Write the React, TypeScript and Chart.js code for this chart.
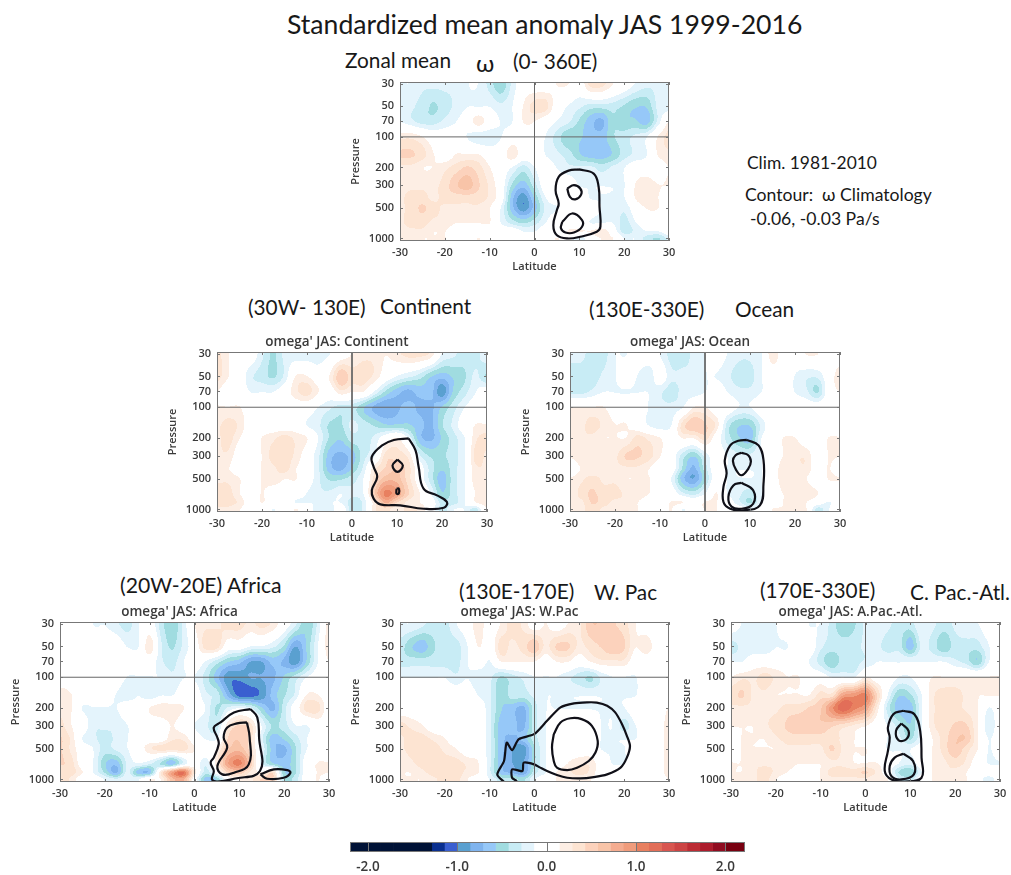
import React, { useEffect, useRef } from "react";
import { Chart, registerables } from "chart.js";

Chart.register(...registerables);

// ---------- axes ----------
const latitudes = [-30,-27.5,-25,-22.5,-20,-17.5,-15,-12.5,-10,-7.5,-5,-2.5,0,2.5,5,7.5,10,12.5,15,17.5,20,22.5,25,27.5,30];
const pressureLevels = [30,50,70,100,150,200,300,400,500,700,850,1000];
const pressureTicks = [30,50,70,100,200,300,500,1000];
const colorbarTicks = [-2,-1,0,1,2];

// The field tables hold anomalies in whole tenths, rounded toward zero; a non-zero entry is
// read back as the middle of its tenth.
const readValue = (n: number) => (n === 0 ? 0 : Math.sign(n) * (Math.abs(n) + 0.5) * 0.1);

// ---------- anomaly fields: one row per pressure level, one column per latitude ----------
const zonalField = [
  [-1,-1,-2,-2,-2, -2,-1,-1,-3,-5, -2,0,0,0,1, 1,0,3,3,1, 0,-1,-2,-2,-2],
  [-1,-2,-3,-4,-3, -2,-1,-1,-1,-2, -1,1,3,3,0, -1,-2,-3,-3,-3, -4,-5,-5,-2,-2],
  [-1,-2,-3,-3,-2, -1,0,2,0,-1, -1,1,1,0,-1, -2,-4,-6,-7,-4, -5,-5,-6,-2,1],
  [2,2,1,0,0, 0,-1,-2,-2,-1, 0,0,0,-1,-3, -5,-5,-6,-6,-4, -3,-2,-1,1,3],
  [4,4,3,1,0, 1,1,1,0,0, 2,0,0,-1,-2, -3,-5,-6,-6,-5, -3,-2,-1,1,2],
  [2,2,1,1,2, 3,4,3,1,0, -1,-3,-1,0,-1, -2,-2,-2,-3,-2, -1,0,0,0,1],
  [2,2,2,2,3, 5,6,4,2,0, -4,-6,-3,0,0, 0,-1,-1,-1,-1, -1,1,2,1,1],
  [2,3,3,2,3, 3,3,3,2,0, -6,-9,-5,-1,0, 0,0,-1,-1,-1, -1,1,2,1,0],
  [2,3,4,3,2, 2,2,2,1,-1, -6,-9,-6,-2,-1, 0,0,0,-1,-1, -2,0,1,1,0],
  [2,3,3,2,2, 1,1,1,1,-1, -3,-4,-3,-1,0, 0,0,-1,-1,-1, -3,-1,0,0,0],
  [2,2,2,1,1, 0,0,0,0,0, 0,-1,-1,0,0, 1,1,1,2,0, -3,-2,-1,-1,0],
  [2,2,1,1,1, 0,0,1,0,0, 0,0,0,0,1, 0,-2,0,1,1, -1,-1,-3,-4,-2],
];
const continentField = [
  [3,1,0,0,-2, -4,-2,-2,-2,-2, -1,0,1,2,2, 1,2,3,3,2, -1,-2,-3,-3,-1],
  [3,1,0,-2,-3, -4,-2,1,1,0, 1,5,3,3,2, 0,-1,-2,-3,-5, -6,-5,-4,-2,-4],
  [1,0,0,-1,-1, -1,0,2,3,1, 0,2,1,1,-1, -4,-6,-7,-6,-6, -9,-5,-3,-1,0],
  [1,1,1,0,0, 0,0,0,0,-1, -2,-3,-3,-5,-7, -8,-7,-6,-7,-7, -5,-3,-1,0,0],
  [2,3,2,0,0, 0,0,0,-1,-2, -4,-4,-2,-3,-4, -5,-5,-5,-6,-7, -4,-2,0,1,1],
  [2,3,1,0,1, 2,3,2,1,-1, -4,-5,-3,-3,-2, 0,1,-1,-6,-7, -5,-3,-1,2,3],
  [2,2,0,0,1, 3,3,2,0,-2, -6,-7,-6,-3,-1, 3,3,2,-2,-4, -4,-3,-1,3,2],
  [1,1,0,0,1, 2,3,1,0,-2, -6,-7,-5,-2,2, 4,5,3,0,-3, -5,-3,-1,2,2],
  [2,2,1,0,1, 2,1,1,0,-2, -4,-4,-3,-1,3, 6,6,3,0,-3, -6,-3,-1,2,2],
  [3,3,1,0,1, 0,0,0,-1,-2, -2,-1,-2,-1,5, 10,8,4,1,-1, -5,-3,-1,1,2],
  [3,3,2,0,1, 0,0,-1,-1,-1, -1,-1,-3,-2,2, 7,4,2,1,0, -3,-3,-1,1,2],
  [2,2,1,0,0, -1,0,1,0,-2, -2,0,-3,-2,2, 3,1,3,2,0, -3,-1,-1,-3,1],
];
const oceanField = [
  [-2,-2,-3,-3,-1, -1,0,0,-1,-3, -3,-2,-1,0,-1, -2,-2,-1,2,0, 0,1,1,0,0],
  [-3,-3,-3,-2,-1, 0,-1,-2,0,-2, -2,-2,-1,-1,-2, -3,-3,-1,0,0, -1,-2,-2,0,2],
  [-3,-3,-2,-1,-1, -1,-1,-1,-2,-3, -2,-2,-1,0,-1, -2,-2,-1,0,0, -1,-2,-4,0,1],
  [1,1,1,1,0, 0,0,-1,-2,-2, -1,1,1,0,0, -1,-1,0,0,0, 0,0,0,0,0],
  [2,2,3,2,1, 1,0,-1,-2,-1, 3,5,4,2,-3, -5,-5,-2,0,0, 0,0,0,0,0],
  [1,2,2,1,1, 1,3,2,1,0, 1,1,3,0,-3, -5,-6,-1,0,1, 1,0,0,1,1],
  [1,2,2,2,2, 4,4,3,1,0, -3,-5,-2,0,-1, -2,-2,-1,0,1, 2,2,0,1,1],
  [0,1,1,2,2, 2,2,1,0,0, -4,-7,-3,0,-1, -1,-1,-1,0,2, 2,2,0,1,0],
  [1,2,3,2,2, 1,1,1,0,-1, -6,-8,-4,0,-1, -1,-1,-1,0,2, 2,1,0,1,1],
  [1,3,4,3,3, 2,2,1,0,0, -2,-3,-1,1,-1, -2,-3,-1,0,1, 1,2,1,0,0],
  [2,2,4,3,2, 2,1,0,0,1, 1,0,1,1,0, -2,-4,-1,0,1, 2,1,0,-1,0],
  [2,2,3,2,2, 1,1,0,0,1, -1,0,1,1,0, 0,-1,0,1,1, 1,1,-3,-1,0],
];
const africaField = [
  [0,0,0,-1,-1, -2,-3,-1,0,-3, -5,-2,1,2,2, 3,3,2,3,2, 0,-2,-5,-2,2],
  [0,0,0,0,0, 0,-1,-1,2,-2, -4,-2,0,3,3, 0,0,-1,-1,-2, -4,-8,-5,-1,2],
  [0,0,0,0,0, 0,0,0,0,-2, -3,-1,0,-1,-3, -5,-6,-8,-8,-6, -7,-9,-5,-1,1],
  [0,0,0,0,0, 0,-1,-1,-1,-1, -2,-1,-1,-3,-6, -9,-9,-8,-8,-7, -5,-3,-1,0,0],
  [2,1,0,0,0, -1,-2,-1,-2,-1, -1,0,0,-2,-3, -7,-10,-10,-9,-6, -4,-2,1,1,0],
  [2,1,-1,-1,-1, -1,0,0,1,2, 2,1,0,-1,-4, -2,-1,-2,-5,-7, -3,0,3,3,0],
  [3,1,0,-2,-2, -2,-1,0,0,0, 1,0,-1,-2,-3, 2,4,3,-1,-4, -3,-1,-1,0,0],
  [4,2,-1,-2,-3, -2,-1,0,0,0, 2,2,0,-1,-1, 4,5,3,-2,-6, -5,-3,-1,0,0],
  [4,2,0,-1,-3, -2,-1,0,2,3, 3,3,1,0,1, 5,6,3,-1,-6, -7,-4,-1,0,0],
  [4,3,0,-1,-5, -6,-2,-1,-2,-4, -6,-2,0,-2,2, 8,10,5,-2,-5, -6,-4,0,1,1],
  [3,3,1,-1,-4, -7,-2,-6,-6,2, 8,11,2,-3,0, 4,5,2,1,3, -5,-4,0,1,1],
  [3,2,0,0,-1, -2,-1,-1,1,1, 6,7,0,-6,-5, 0,1,2,4,4, -4,-3,0,1,0],
];
const westPacificField = [
  [-1,-1,-2,-3,-3, -1,0,2,0,1, 3,2,0,1,0, 1,2,5,5,4, 3,1,0,0,0],
  [-3,-5,-6,-4,-3, -3,-1,1,0,3, 2,3,5,2,4, 4,2,3,4,5, 4,1,2,0,0],
  [-3,-3,-3,-3,-3, -3,-1,0,-1,1, 1,1,1,0,1, 1,0,1,2,2, 2,0,0,0,0],
  [-1,-1,-1,-1,-1, -2,-1,-2,-2,-4, -3,-2,-1,-1,-1, -2,-3,-4,-2,-1, -1,-1,0,0,0],
  [0,0,0,0,0, 0,0,-1,-2,-5, -3,-3,-2,-1,-1, -1,-1,-1,-1,-1, -1,-1,0,0,0],
  [0,0,0,0,0, 0,0,0,-2,-5, -6,-7,-3,-1,-1, -1,-1,-1,-1,-1, -1,0,0,0,1],
  [3,2,1,0,0, 0,0,0,-2,-6, -6,-7,-3,-1,0, 0,0,0,-1,-1, -3,-1,0,0,2],
  [2,3,3,2,1, 0,0,0,-2,-6, -7,-6,-3,-1,0, 0,0,0,-1,-1, -1,-1,0,0,2],
  [2,3,3,3,2, 1,0,0,-2,-6, -8,-9,-4,-1,0, 0,0,0,-1,-1, -1,0,0,0,2],
  [1,2,3,3,3, 3,2,1,-2,-6, -8,-8,-4,-1,0, 1,2,2,0,-1, -1,0,0,0,2],
  [1,1,2,3,3, 3,2,1,-2,-6, -7,-8,-3,-1,1, 2,3,2,0,0, 0,0,0,0,2],
  [1,1,1,2,3, 3,1,0,-1,-3, -3,-4,-1,0,1, 1,1,1,0,0, 0,0,0,0,1],
];
const pacificAtlanticField = [
  [0,-1,-1,-2,-1, 0,0,-1,-1,-3, -5,-4,-2,-1,-2, -3,-3,-1,-2,-3, -2,-1,-1,0,0],
  [-3,-2,-2,-2,-1, -1,0,0,-2,-3, -3,-3,-2,-2,-3, -3,-6,-2,-3,-5, -3,-3,-3,-1,0],
  [-1,-1,0,0,0, 0,0,-1,-3,-5, -3,-3,-2,-1,-1, -1,-1,-1,-1,-1, -2,-3,-5,-1,0],
  [1,2,2,3,2, 1,1,0,0,-1, -1,-1,1,0,0, -1,-1,0,1,1, 1,1,1,1,1],
  [3,4,2,2,1, 1,1,1,3,3, 8,9,10,4,-1, -5,-4,-1,2,3, 3,2,1,1,1],
  [2,2,2,2,2, 3,3,4,5,9, 12,10,8,2,-3, -6,-6,-1,2,3, 3,2,1,-1,0],
  [1,1,1,2,3, 4,5,5,5,4, 3,2,1,0,-1, -3,-5,-1,2,3, 4,4,1,-2,0],
  [0,1,1,1,2, 3,3,3,3,3, 2,1,0,0,-1, -2,-4,-1,1,3, 5,5,1,-1,0],
  [0,1,1,1,1, 2,2,2,2,4, 2,1,1,0,-1, -1,-1,0,1,3, 5,3,1,-1,0],
  [1,1,2,2,2, 2,1,1,1,2, 2,1,1,1,0, -1,-2,0,1,2, 3,2,0,-1,-1],
  [1,1,2,3,2, 1,0,0,1,3, 3,3,4,2,0, -4,-5,-1,1,2, 2,1,0,0,0],
  [1,2,2,3,1, 0,0,0,1,2, 2,2,2,1,1, -2,-3,0,1,1, 2,1,0,-2,0],
];

// ---------- climatology contours as [latitude, pressure] ----------
const zonalContours = [
  [[9.9,209],[13.2,230],[14.3,310],[14.5,488],[14.7,767],[13.9,860],[10.2,963],[7.3,1000],[5,930],[4.2,740],[5,526],[5.4,453],[4.7,335],[5.4,247],[7.6,215]],
  [[7.3,322],[8.8,299],[10.2,322],[10.4,370],[9.1,412],[7.9,389]],
  [[6.2,685],[8.4,568],[10.6,660],[10.6,767],[8.8,875],[6.9,875],[5.9,795]],
];
const continentContours = [
  [[12.6,202],[14.1,263],[14.8,383],[15.9,626],[18.9,729],[21.1,847],[20.4,963],[15.9,985],[10.7,912],[6.3,893],[4.8,785],[4.4,650],[5.6,480],[4.8,383],[4.4,305],[6.7,236],[9.3,209]],
  [[10.1,325],[11.3,372],[10.1,430],[9,372]],
  [[9.9,626],[10.4,626],[10.4,700],[9.9,700]],
];
const oceanContours = [
  [[9.3,209],[11.9,236],[13,330],[13,560],[12.2,912],[8.5,1020],[5.6,985],[4.1,847],[4.1,603],[4.8,445],[4.4,330],[5.6,236],[7.4,213]],
  [[8.1,279],[9.6,295],[10.2,340],[9.6,400],[8.1,463],[6.9,410],[6.2,335],[6.8,295]],
  [[8.1,548],[10.7,650],[10.7,880],[8.1,985],[5.9,940],[5.2,755],[6.3,582]],
];
const africaContours = [
  [[12.5,205],[14,247],[14.4,389],[14.6,828],[8.8,985],[5.1,1050],[3.9,1000],[4.3,828],[3.6,685],[4.3,612],[5.4,453],[5.1,389],[4.3,310],[5.8,277],[8.8,221]],
  [[11.7,277],[12.3,389],[12.1,712],[8.8,860],[6.2,893],[5.1,740],[7.3,488],[6.5,389],[7.3,310],[9.5,283]],
  [[14.7,893],[17.7,797],[20.7,810],[21.4,860],[19.9,963],[16.2,985]],
];
const westPacificContours = [
  [[-6.8,1060],[-8.3,893],[-6.8,660],[-6.2,436],[-5,518],[-3.5,404],[-0.1,361],[2.8,267],[5.8,197],[8.8,180],[11.7,176],[13.9,177],[16.2,190],[18,221],[19.5,287],[20.6,374],[21.3,470],[20.6,612],[19.2,767],[16.2,893],[13.2,950],[10.2,978],[7.3,963],[5,906],[2.8,828],[1.3,767],[-0.1,712],[-2.4,685],[-2.7,828],[-5,797],[-5,963],[-4,1038],[-4.6,1060]],
  [[4.3,361],[5.8,277],[8,252],[10.5,257],[12.8,299],[14.1,420],[13.6,546],[12.1,660],[9.5,767],[7.3,810],[5,767],[4.3,660],[3.9,488]],
];
const pacificAtlanticContours = [
  [[8.4,213],[10.9,230],[12.2,335],[12.5,612],[12.5,963],[8.8,1050],[5.8,1000],[4.3,828],[5,526],[5.4,389],[5,310],[6.2,230]],
  [[8,283],[9.6,335],[9.1,404],[7.4,414],[6.8,335]],
  [[8.4,560],[10.6,660],[10.8,893],[8,1000],[5.8,930],[5.4,740],[6.5,612]],
];

// ---------- colour steps (each step spans one seventh of a unit) ----------
const warmSteps = ["#ffffff","#fdeee4","#fde4d2","#fcd2bc","#f8c4a8","#f4ac90","#f09c7c","#e88060","#e26e58","#d85650","#cc4444","#bc2c34","#ac1c2c","#900c20","#780010","#780010"];
const coolSteps = ["#ffffff","#e4f4fc","#c8ecf5","#a0dce0","#96c8f8","#80b4ee","#5aa0d0","#3a5fd0","#0a2f8f","#001236","#001236","#001236","#001236","#001236","#001236","#001236"];

const stepIndex = (v: number) => Math.floor(v * 7);
const stepColour = (k: number) => (k >= 0 ? warmSteps[Math.min(k, 15)] : coolSteps[Math.min(-k - 1, 15)]);
const hexRgb = (h: string) => [parseInt(h.slice(1, 3), 16), parseInt(h.slice(3, 5), 16), parseInt(h.slice(5, 7), 16)];

const TICK_FONT = { family: "'Open Sans'", size: 11, weight: "600" as const };
const INK = "#3a3a3a";
const FRAME = "#777777";

const catmull = (a: number, b: number, c: number, d: number, t: number) =>
  0.5 * (2 * b + (c - a) * t + (2 * a - 5 * b + 4 * c - d) * t * t + (3 * b - a - 3 * c + d) * t * t * t);

// paints the field dataset through the chart's own scales
const fieldPlugin = {
  id: "anomalyField",
  beforeDatasetsDraw(chart: any) {
    const ds = chart.data.datasets.find((d: any) => d.isField);
    if (!ds) return;
    const { left, top, right, bottom } = chart.chartArea;
    const x0 = Math.round(left), y0 = Math.round(top);
    const w = Math.round(right) - x0, h = Math.round(bottom) - y0;
    const nLat = latitudes.length, nLev = pressureLevels.length;
    const cell = (r: number, c: number) =>
      ds.data[Math.max(0, Math.min(nLev - 1, r)) * nLat + Math.max(0, Math.min(nLat - 1, c))].v;
    const img = chart.ctx.createImageData(w, h);
    const logs = pressureLevels.map(Math.log);
    for (let py = 0; py < h; py++) {
      const p = Math.log(chart.scales.y.getValueForPixel(y0 + py + 0.5));
      let r = 0;
      while (r < nLev - 2 && p > logs[r + 1]) r++;
      const tr = Math.max(0, Math.min(1, (p - logs[r]) / (logs[r + 1] - logs[r])));
      for (let px = 0; px < w; px++) {
        const lat = chart.scales.x.getValueForPixel(x0 + px + 0.5);
        const fc = Math.max(0, Math.min(nLat - 1.0001, (lat + 30) / 2.5));
        const c = Math.floor(fc), tc = fc - c;
        const row = [-1, 0, 1, 2].map((dr) =>
          catmull(cell(r + dr, c - 1), cell(r + dr, c), cell(r + dr, c + 1), cell(r + dr, c + 2), tc)
        );
        const v = catmull(row[0], row[1], row[2], row[3], tr);
        const rgb = hexRgb(stepColour(stepIndex(v)));
        const i = (py * w + px) * 4;
        img.data[i] = rgb[0]; img.data[i + 1] = rgb[1]; img.data[i + 2] = rgb[2]; img.data[i + 3] = 255;
      }
    }
    chart.ctx.putImageData(img, x0, y0);
  },
};

// frame round the plot and the short ticks that point inward
const framePlugin = {
  id: "innerFrame",
  afterDraw(chart: any) {
    const { left, top, right, bottom } = chart.chartArea;
    const ctx = chart.ctx;
    ctx.save();
    ctx.strokeStyle = FRAME;
    ctx.lineWidth = 1;
    ctx.strokeRect(left + 0.5, top + 0.5, right - left - 1, bottom - top - 1);
    const len = chart.options.plugins.innerFrame?.tick ?? 3;
    ctx.beginPath();
    chart.scales.x.ticks.forEach((t: any) => {
      const x = Math.round(chart.scales.x.getPixelForValue(t.value)) + 0.5;
      ctx.moveTo(x, bottom); ctx.lineTo(x, bottom - len);
      ctx.moveTo(x, top); ctx.lineTo(x, top + len);
    });
    if (chart.scales.y.type === "logarithmic") {
      chart.scales.y.ticks.forEach((t: any) => {
        const y = Math.round(chart.scales.y.getPixelForValue(t.value)) + 0.5;
        ctx.moveTo(left, y); ctx.lineTo(left + len, y);
        ctx.moveTo(right, y); ctx.lineTo(right - len, y);
      });
    }
    ctx.stroke();
    ctx.restore();
  },
};

const GUTTER = { left: 55, right: 25, top: 18, bottom: 32 };
const P_TOP = 28.8, P_BOTTOM = 1060;

function HeatPanel({ field, contours, title, openFirst, left, top, width, height }: any) {
  const ref = useRef<HTMLCanvasElement>(null);
  useEffect(() => {
    const points: any[] = [];
    pressureLevels.forEach((p, r) =>
      latitudes.forEach((lat, c) => points.push({ x: lat, y: p, v: readValue(field[r][c]) }))
    );
    const contourSets = contours.map((loop: number[][], i: number) => {
      const isOpen = openFirst && i === 0;
      const pts = loop.map(([x, y]) => ({ x, y }));
      if (!isOpen) pts.push(pts[0]);
      return {
        label: `contour ${i + 1}`, data: pts, showLine: true, borderColor: "#101018", borderWidth: 2.2,
        pointRadius: 0, tension: isOpen ? 0.25 : 0.42, fill: false,
      };
    });
    const chart = new Chart(ref.current!, {
      type: "scatter",
      data: {
        datasets: [
          { label: "anomaly", isField: true, data: points, pointRadius: 0, showLine: false } as any,
          { label: "equator", data: [{ x: 0, y: P_TOP }, { x: 0, y: P_BOTTOM }], showLine: true, borderColor: "#666666", borderWidth: 1, pointRadius: 0 },
          { label: "100 hPa", data: [{ x: -30, y: 100 }, { x: 30, y: 100 }], showLine: true, borderColor: "#666666", borderWidth: 1, pointRadius: 0 },
          ...contourSets,
        ],
      },
      options: {
        animation: false,
        responsive: false,
        events: [],
        layout: { autoPadding: false, padding: { left: 0, right: 0, bottom: 0, top: title ? 0 : GUTTER.top } },
        plugins: {
          legend: { display: false },
          tooltip: { enabled: false },
          title: title
            ? { display: true, text: title, color: INK, font: { family: "'Open Sans'", size: 13.5, weight: "600" }, padding: { top: 0, bottom: 1.8 } }
            : { display: false },
        },
        scales: {
          x: {
            type: "linear", min: -30, max: 30,
            grid: { display: false, drawTicks: false },
            border: { display: false },
            ticks: { stepSize: 10, color: INK, font: TICK_FONT, padding: 5, maxRotation: 0, callback: (v: any) => String(v) },
            title: { display: true, text: "Latitude", color: INK, font: TICK_FONT, padding: 0 },
            afterFit: (s: any) => { s.height = GUTTER.bottom; },
          },
          y: {
            type: "logarithmic", reverse: true, min: P_TOP, max: P_BOTTOM,
            grid: { display: false, drawTicks: false },
            border: { display: false },
            afterBuildTicks: (s: any) => { s.ticks = pressureTicks.map((value) => ({ value })); },
            ticks: { color: INK, font: TICK_FONT, padding: 6, autoSkip: false, callback: (v: any) => String(v) },
            title: { display: true, text: "Pressure", color: INK, font: TICK_FONT, padding: { top: 4, bottom: 0 } },
            afterFit: (s: any) => { s.width = GUTTER.left; },
          },
          rightGutter: {
            type: "linear", position: "right", display: true,
            grid: { display: false, drawTicks: false },
            border: { display: false },
            ticks: { display: false },
            afterFit: (s: any) => { s.width = GUTTER.right; },
          },
        },
      } as any,
      plugins: [fieldPlugin, framePlugin],
    });
    return () => chart.destroy();
  }, []);
  return (
    <canvas
      ref={ref}
      width={width + GUTTER.left + GUTTER.right}
      height={height + GUTTER.top + GUTTER.bottom}
      style={{
        position: "absolute", left: left - GUTTER.left, top: top - GUTTER.top,
        width: width + GUTTER.left + GUTTER.right, height: height + GUTTER.top + GUTTER.bottom,
      }}
    />
  );
}

function Colorbar() {
  const ref = useRef<HTMLCanvasElement>(null);
  useEffect(() => {
    const steps: number[] = [];
    for (let k = -16; k <= 15; k++) steps.push(k);
    const chart = new Chart(ref.current!, {
      type: "bar",
      data: {
        labels: ["anomaly"],
        datasets: steps.map((k) => ({
          label: String(k),
          data: [[k / 7, (k + 1) / 7]],
          backgroundColor: stepColour(k),
          borderWidth: 0,
          barPercentage: 1,
          categoryPercentage: 1,
          grouped: false,
        })) as any,
      },
      options: {
        animation: false, responsive: false, indexAxis: "y", events: [],
        layout: { autoPadding: false, padding: { left: 20, right: 20, top: 0, bottom: 0 } },
        plugins: { legend: { display: false }, tooltip: { enabled: false }, innerFrame: { tick: 10 } },
        scales: {
          x: {
            type: "linear", min: -2.2, max: 2.22,
            grid: { display: false, drawTicks: false }, border: { display: false },
            afterBuildTicks: (s: any) => { s.ticks = colorbarTicks.map((value) => ({ value })); },
            ticks: { color: INK, font: { family: "'Open Sans'", size: 13.5, weight: "600" }, padding: 7, callback: (v: any) => Number(v).toFixed(1) },
            afterFit: (s: any) => { s.height = 30; },
          },
          y: { display: false },
        },
      } as any,
      plugins: [framePlugin],
    });
    return () => chart.destroy();
  }, []);
  return <canvas ref={ref} width={435} height={40} style={{ position: "absolute", left: 330, top: 842, width: 435, height: 40 }} />;
}

// free-standing captions: [text, left, vertical centre, font size]
const captions: [string, number, number, number][] = [
  ["Standardized mean anomaly JAS 1999-2016", 287, 24, 26.6],
  ["Zonal mean", 345, 60, 20.8],
  ["ω", 476, 63, 24],
  ["(0- 360E)", 513, 61, 20.8],
  ["Clim. 1981-2010", 747, 163, 17.4],
  ["Contour:  ω Climatology", 745, 194, 17.6],
  ["-0.06, -0.03 Pa/s", 750, 218, 17.6],
  ["(30W- 130E)", 248, 307, 20.8],
  ["Continent", 380, 306, 20.8],
  ["(130E-330E)", 589, 309, 20.8],
  ["Ocean", 735, 309, 20.8],
  ["(20W-20E) Africa", 120, 585, 21.2],
  ["(130E-170E)", 459, 591, 20.8],
  ["W. Pac", 594, 592, 20.8],
  ["(170E-330E)", 760, 590, 20.8],
  ["C. Pac.-Atl.", 910, 592, 20.8],
];

export default function App() {
  return (
    <div style={{ position: "absolute", left: 0, top: 0, width: 1011, height: 875, overflow: "hidden", background: "#fff", fontFamily: "Lato, sans-serif", color: "#181818", filter: "blur(0.4px)" }}>
      {captions.map(([text, left, cy, size]) => (
        <div key={text} style={{ position: "absolute", left, top: cy - size * 0.58, fontSize: size, lineHeight: 1.2, whiteSpace: "pre" }}>
          {text}
        </div>
      ))}
      <HeatPanel field={zonalField} contours={zonalContours} title="" left={400} top={82} width={269} height={159} />
      <HeatPanel field={continentField} contours={continentContours} title="omega' JAS: Continent" left={217} top={352} width={270} height={160} />
      <HeatPanel field={oceanField} contours={oceanContours} title="omega' JAS: Ocean" left={570} top={352} width={270} height={160} />
      <HeatPanel field={africaField} contours={africaContours} title="omega' JAS: Africa" left={60} top={622} width={269} height={160} />
      <HeatPanel field={westPacificField} contours={westPacificContours} openFirst title="omega' JAS: W.Pac" left={400} top={622} width={269} height={160} />
      <HeatPanel field={pacificAtlanticField} contours={pacificAtlanticContours} title="omega' JAS: A.Pac.-Atl." left={731} top={622} width={269} height={160} />
      <Colorbar />
    </div>
  );
}
